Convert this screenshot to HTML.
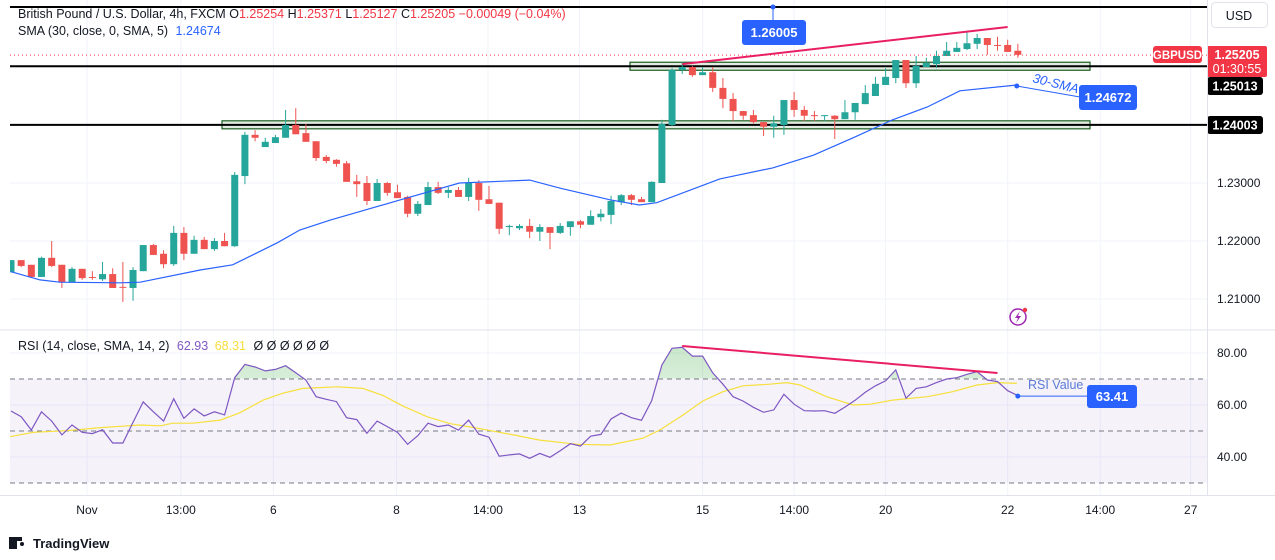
<!DOCTYPE html>
<html><head><meta charset="utf-8">
<style>
html,body{margin:0;padding:0;background:#fff;}
svg{display:block;font-family:"Liberation Sans",sans-serif;}
</style></head>
<body>
<svg id="chart" width="1275" height="560" viewBox="0 0 1275 560" xmlns="http://www.w3.org/2000/svg">
<defs>
<linearGradient id="gfill" x1="0" y1="0" x2="0" y2="1"><stop offset="0" stop-color="#4caf50" stop-opacity="0.3"/><stop offset="1" stop-color="#4caf50" stop-opacity="0.03"/></linearGradient>
<clipPath id="above70"><rect x="10" y="330" width="1197" height="48.5"/></clipPath>
<clipPath id="mainclip"><rect x="10" y="0" width="1197" height="329"/></clipPath>
</defs>
<rect x="0" y="0" width="1275" height="560" fill="#fff"/>
<g id="grid"></g>
<g id="zones"></g>
<g id="main" clip-path="url(#mainclip)"></g>
<g id="rsi"></g>
<g id="axes"></g>
<g id="annot"></g>

<line x1="0" y1="330" x2="1275" y2="330" stroke="#e0e3eb" stroke-width="1"/>
<line x1="1207.5" y1="0" x2="1207.5" y2="495" stroke="#e0e3eb"/>
<line x1="0" y1="495.5" x2="1275" y2="495.5" stroke="#e0e3eb"/>

<g font-size="12.5">
<text x="18" y="18" fill="#131722">British Pound / U.S. Dollar, 4h, FXCM <tspan fill="#131722">O</tspan><tspan fill="#f23645">1.25254</tspan> <tspan fill="#131722">H</tspan><tspan fill="#f23645">1.25371</tspan> <tspan fill="#131722">L</tspan><tspan fill="#f23645">1.25127</tspan> <tspan fill="#131722">C</tspan><tspan fill="#f23645">1.25205</tspan> <tspan fill="#f23645">−0.00049 (−0.04%)</tspan></text>
<text x="18" y="35" fill="#131722">SMA (30, close, 0, SMA, 5) <tspan fill="#2962ff" dx="4">1.24674</tspan></text>
<text x="18" y="350" fill="#131722">RSI (14, close, SMA, 14, 2) <tspan fill="#7e57c2" dx="4">62.93</tspan> <tspan fill="#f7dd3a" dx="3">68.31</tspan> <tspan fill="#131722" dx="4">Ø Ø Ø Ø Ø Ø</tspan></text>
</g>

<g>
<rect x="1211.5" y="2.5" width="56" height="25" rx="4" fill="#fff" stroke="#e0e3eb"/>
<text x="1239" y="20" font-size="12.5" text-anchor="middle" fill="#131722">USD</text>
</g>

<g>
<rect x="9" y="537" width="8" height="12" fill="#131722"/>
<rect x="14" y="537" width="8" height="4" fill="#131722"/>
<circle cx="22" cy="544" r="2" fill="#131722"/>
<text x="33" y="548" font-size="13" font-weight="bold" fill="#131722">TradingView</text>
</g>

<g>
<circle cx="1018" cy="317" r="8" fill="#fff" stroke="#9c27b0" stroke-width="1.5"/>
<path d="M1020 311 L1015 318 L1018 318 L1016 323 L1021 316 L1018 316 Z" fill="#9c27b0"/>
<circle cx="1025" cy="310" r="2.2" fill="#f23645"/>
</g>
</svg>
<script>
const opens=[1.2146,1.2167,1.2159,1.2138,1.2171,1.2159,1.2129,1.2152,1.2138,1.2134,
1.2143,1.2121,1.2119,1.2148,1.2193,1.2178,1.2160,1.2214,1.2178,1.2202,
1.2186,1.2200,1.2191,1.2312,1.2383,1.2362,1.2369,1.2378,1.2400,1.2386,
1.2372,1.2345,1.2340,1.2334,1.2303,1.2300,1.2269,1.2300,1.2284,1.2276,
1.2247,1.2262,1.2293,1.2283,1.2288,1.2276,1.2300,1.2272,1.2266,1.2224,
1.2222,1.2226,1.2216,1.2224,1.2214,1.2224,1.2234,1.2228,1.2241,1.2245,
1.2267,1.2279,1.2272,1.2267,1.2300,1.2400,1.2495,1.2500,1.2486,1.2491,
1.2464,1.2445,1.2424,1.2417,1.2405,1.2397,1.2400,1.2443,1.2426,1.2417,
1.2416,1.2416,1.2410,1.2422,1.2436,1.2450,1.2469,1.2481,1.2512,1.2472,
1.2500,1.2505,1.2519,1.2526,1.2531,1.2540,1.2550,1.2538,1.2538,1.2528];
const highs=[1.2167,1.2167,1.2159,1.2173,1.2200,1.2159,1.2155,1.2152,1.2148,1.2164,
1.2153,1.2164,1.2155,1.2193,1.2195,1.2184,1.2226,1.2224,1.2209,1.2207,
1.2205,1.2214,1.2319,1.2388,1.2391,1.2378,1.2383,1.2426,1.2429,1.2402,
1.2372,1.2348,1.2341,1.2338,1.2314,1.2312,1.2307,1.2302,1.2297,1.2278,
1.2269,1.2302,1.2302,1.2293,1.2293,1.2309,1.2305,1.2295,1.2266,1.2228,
1.2229,1.2238,1.2229,1.2224,1.2231,1.2234,1.2236,1.2253,1.2255,1.2278,
1.2281,1.2281,1.2276,1.2303,1.2409,1.2498,1.2509,1.2502,1.2500,1.2500,
1.2481,1.2455,1.2424,1.2426,1.2405,1.2416,1.2443,1.2457,1.2433,1.2424,
1.2417,1.2417,1.2443,1.2438,1.2469,1.2483,1.2498,1.2512,1.2512,1.2519,
1.2516,1.2528,1.2543,1.2543,1.2560,1.2557,1.2550,1.2552,1.2547,1.2540];
const lows=[1.2146,1.2155,1.2138,1.2138,1.2155,1.2119,1.2129,1.2133,1.2133,1.2131,
1.2119,1.2095,1.2097,1.2148,1.2176,1.2153,1.2157,1.2167,1.2178,1.2186,
1.2183,1.2191,1.2190,1.2298,1.2372,1.2362,1.2369,1.2378,1.2384,1.2371,
1.2338,1.2334,1.2328,1.2302,1.2276,1.2262,1.2269,1.2278,1.2274,1.2241,
1.2243,1.2262,1.2281,1.2274,1.2276,1.2269,1.2252,1.2264,1.2212,1.2210,
1.2219,1.2205,1.2200,1.2186,1.2212,1.2209,1.2222,1.2228,1.2234,1.2229,
1.2262,1.2262,1.2267,1.2267,1.2300,1.2398,1.2488,1.2483,1.2486,1.2457,
1.2429,1.2407,1.2409,1.2403,1.2381,1.2378,1.2383,1.2414,1.2407,1.2407,
1.2407,1.2376,1.2410,1.2409,1.2436,1.2450,1.2469,1.2472,1.2464,1.2464,
1.2500,1.2498,1.2519,1.2526,1.2529,1.2531,1.2521,1.2528,1.2526,1.2516];
const closes=[1.2167,1.2157,1.2138,1.2171,1.2157,1.2129,1.2152,1.2136,1.2137,1.2143,
1.2119,1.2120,1.2150,1.2193,1.2176,1.2160,1.2214,1.2178,1.2202,1.2186,
1.2200,1.2191,1.2314,1.2383,1.2378,1.2371,1.2379,1.2400,1.2384,1.2371,
1.2343,1.2338,1.2333,1.2302,1.2298,1.2269,1.2300,1.2283,1.2274,1.2247,
1.2264,1.2293,1.2283,1.2288,1.2276,1.2300,1.2271,1.2264,1.2221,1.2226,
1.2226,1.2216,1.2224,1.2214,1.2226,1.2234,1.2228,1.2243,1.2247,1.2269,
1.2279,1.2271,1.2267,1.2302,1.2402,1.2495,1.2500,1.2486,1.2491,1.2464,
1.2445,1.2424,1.2416,1.2405,1.2397,1.2403,1.2443,1.2426,1.2416,1.2416,
1.2417,1.2410,1.2422,1.2438,1.2455,1.2471,1.2483,1.2512,1.2472,1.2502,
1.2507,1.2519,1.2528,1.2533,1.2541,1.2550,1.2538,1.2537,1.2526,1.2521];
const smaIdx=[1,3.85,5.8,11.7,13.7,19.6,22.8,27.2,29.4,32.4,39.3,45.1,52,55,59.9,62.8,64.5,70.7,75.9,79.9,83.8,87.7,91.1,94.3,99.9];
const smaVal=[1.2147,1.2133,1.2129,1.2128,1.2129,1.2150,1.2159,1.2197,1.2219,1.2236,1.2271,1.2300,1.2305,1.2291,1.2271,1.2262,1.2266,1.2307,1.2326,1.2348,1.2378,1.2409,1.2431,1.2459,1.2469];
const rsiVal=[57.7,55.5,50.4,57.4,53.8,48.5,52.3,49.5,49,50.5,
45.4,45.4,53.3,61.2,57.4,53.8,62.4,54.9,58.5,55.8,
57.4,56.2,70.5,75.6,74.6,73.1,73.7,75.1,72.4,69.6,
63.2,62.2,61.3,55.1,54.4,49.1,53.8,51.7,49.5,44.9,
48.2,53,51.7,52.3,50.3,54.2,48.8,47.6,40.3,40.8,
41.2,39.5,41.4,39.9,42.4,45.1,44.2,48,48.7,54.6,
56.9,55.1,54.1,61.7,75.4,81.8,82.2,78.8,78.8,72.4,
68,63.2,61.5,59.1,57.2,58.1,64.1,60.3,57.8,57.7,
57.8,56.8,59.2,61.8,64.9,67.4,69.3,73.5,62.6,66.4,
67,68.6,70,70.5,71.8,72.8,69.6,69,65.5,63.6];
const rsiMaIdx=[0.9,3.2,6.5,9.8,13.7,15.7,16.9,18.9,21.6,23.5,25.8,27.7,29.7,33.1,35.6,37.6,39.5,41.9,44.2,46.4,48.8,50.9,53,56.7,59.9,63.1,64.8,67.1,69,71,73,75.6,77.3,78.6,81.2,83.8,85.5,87.7,91.1,93.6,96,98,99.9];
const rsiMaVal=[47.8,49.5,50.1,51.3,52.3,52,53,53,54.2,57,61.9,64.5,66.4,67,66.4,63.6,59.7,55.5,52.8,51.4,49.7,48.1,46.5,44.9,44.6,47.2,50.4,56.2,61.5,65.1,67.4,68,68.6,67.7,63.2,60,60.3,61.9,63.2,65.1,67.7,68.6,68.3];
const priceTicks=[1.21,1.22,1.23,1.24,1.25];
const priceTickLabels=["1.21000","1.22000","1.23000","",""];
const rsiTicks=[80,60,40];
const rsiTickLabels=["80.00","60.00","40.00"];
const timeTickIdx=[8.47,17.7,26.8,38.9,47.9,56.9,69,78,87,99,108.1,117];
const timeTickLabels=["Nov","13:00","6","8","14:00","13","15","14:00","20","22","14:00","27"];
const levelPrices=[1.26005,1.25013,1.24003];
const lastPrice=1.25205;
const smaLast=1.24672;
const rsiLast=63.41;

const NS="http://www.w3.org/2000/svg";
function xS(i){return 11+(i-1)*10.17;}
function yP(p){return 183-(p-1.23)*5800;}
function yR(v){return 431-(v-50)*2.6;}
function mk(tag,attrs,parent,text){const e=document.createElementNS(NS,tag);for(const k in attrs)e.setAttribute(k,attrs[k]);if(text!==undefined)e.textContent=text;parent.appendChild(e);return e;}
const G=document.getElementById('grid'),M=document.getElementById('main'),R=document.getElementById('rsi'),A=document.getElementById('axes'),Z=document.getElementById('zones'),N=document.getElementById('annot');

timeTickIdx.forEach((t,k)=>{const l=mk('line',{x1:xS(t),x2:xS(t),y1:0,y2:495,stroke:'#f0f3fa'},G);


const tx=mk('text',{x:xS(t),y:514,'font-size':12,'text-anchor':'middle',fill:'#131722'},A,timeTickLabels[k]);

});
priceTicks.forEach((p,k)=>{const l=mk('line',{x1:10,x2:1207,y1:yP(p),y2:yP(p),stroke:'#f0f3fa'},G);


if(priceTickLabels[k]){const tx=mk('text',{x:1217,y:yP(p)+4,'font-size':12,fill:'#131722'},A,priceTickLabels[k]);

}});
rsiTicks.forEach((v,k)=>{const l=mk('line',{x1:10,x2:1207,y1:yR(v),y2:yR(v),stroke:'#f0f3fa'},G);


const tx=mk('text',{x:1217,y:yR(v)+4,'font-size':12,fill:'#131722'},A,rsiTickLabels[k]);

});

function zone(x1,x2,p,name){const r=mk('rect',{x:x1,y:yP(p)-4,width:x2-x1,height:8,fill:'#dbe7db','fill-opacity':0.8,stroke:'#1b5e20','stroke-width':1.2},Z);

}
zone(630,1090,levelPrices[1],'resistance-zone');
zone(222,1090,levelPrices[2],'support-zone');
levelPrices.forEach((p,k)=>{const y=k===0?7:yP(p);const l=mk('line',{x1:10,x2:1207,y1:y,y2:y,stroke:'#000','stroke-width':2},Z);

});

for(let i=0;i<opens.length;i++){const x=xS(i+1),o=opens[i],c=closes[i],up=c>=o,col=up?'#26a69a':'#ef5350';
const g=mk('g',{},M);


mk('line',{x1:x,x2:x,y1:yP(highs[i]),y2:yP(lows[i]),stroke:col,'stroke-width':1},g);
const t=yP(Math.max(o,c)),b=yP(Math.min(o,c));
mk('rect',{x:x-3.5,y:t,width:7,height:Math.max(1,b-t),fill:col},g);}
let d='';smaIdx.forEach((t,k)=>{d+=(k?'L':'M')+xS(t).toFixed(1)+' '+yP(smaVal[k]).toFixed(1);});
const sma=mk('path',{d:d,fill:'none',stroke:'#2962ff','stroke-width':1.2},M);


const lp=mk('line',{x1:10,x2:1207,y1:yP(lastPrice),y2:yP(lastPrice),stroke:'#f23645','stroke-dasharray':'1 3'},M);


const tl=mk('line',{x1:xS(67),y1:yP(1.2505),x2:xS(99),y2:yP(1.2569),stroke:'#e91e63','stroke-width':2},M);



const band=mk('rect',{x:10,y:yR(70),width:1197,height:yR(30)-yR(70),fill:'#7e57c2','fill-opacity':0.08},R);


[70,50,30].forEach(v=>{const l=mk('line',{x1:10,x2:1207,y1:yR(v),y2:yR(v),stroke:'#787b86','stroke-dasharray':'5 4','stroke-width':1},R);

});
let rd='';rsiVal.forEach((v,k)=>{rd+=(k?'L':'M')+xS(k+1).toFixed(1)+' '+yR(v).toFixed(1);});
const fillp=mk('path',{d:rd+'L'+xS(rsiVal.length)+' '+yR(70)+'L'+xS(1)+' '+yR(70)+'Z',fill:'url(#gfill)','clip-path':'url(#above70)'},R);


let md='';rsiMaIdx.forEach((t,k)=>{md+=(k?'L':'M')+xS(t).toFixed(1)+' '+yR(rsiMaVal[k]).toFixed(1);});
const mal=mk('path',{d:md,fill:'none',stroke:'#f7e03a','stroke-width':1.2},R);


const rl=mk('path',{d:rd,fill:'none',stroke:'#7e57c2','stroke-width':1.2},R);


const rt=mk('line',{x1:xS(67),y1:yR(82.7),x2:xS(98),y2:yR(72.3),stroke:'#e91e63','stroke-width':2},R);



function label(x,y,w,h,bg,txt,name,fs,col){const g=mk('g',{},N);


mk('rect',{x:x,y:y,width:w,height:h,rx:3,fill:bg},g);
mk('text',{x:x+w/2,y:y+h/2+4.5,'font-size':fs||12.5,'text-anchor':'middle',fill:col||'#fff','font-weight':'bold'},g,txt);return g;}
const hm=mk('line',{x1:773,y1:7,x2:773,y2:20,stroke:'#2962ff'},N);


const hd=mk('circle',{cx:773,cy:7,r:2.5,fill:'#2962ff'},N);


label(742,20,64,25,'#2962ff',levelPrices[0].toFixed(5),'high-price-callout',13);
const sl=mk('line',{x1:xS(99.9),y1:yP(smaLast),x2:1080,y2:97,stroke:'#2962ff'},N);


const sd=mk('circle',{cx:xS(99.9),cy:yP(smaLast),r:2.5,fill:'#2962ff'},N);


const st=mk('text',{x:1032,y:82,'font-size':13,fill:'#2962ff','font-style':'italic',transform:'rotate(14 1032 82)'},N,'30-SMA');


label(1079,85,58,25,'#2962ff',smaLast.toFixed(5),'sma-value-callout',13);
const rl2=mk('line',{x1:xS(100),y1:yR(rsiLast),x2:1088,y2:yR(rsiLast),stroke:'#2962ff'},N);


const rdt=mk('circle',{cx:xS(100),cy:yR(rsiLast),r:2.5,fill:'#2962ff'},N);


const rtx=mk('text',{x:1028,y:389,'font-size':12.5,fill:'#5b7bd5'},N,'RSI Value');


label(1087,385,50,23,'#2962ff',rsiLast.toFixed(2),'rsi-value-callout',13);
label(1153,46,49,17,'#f23645','GBPUSD','symbol-tag',11.5);
const pt=mk('g',{},N);


mk('rect',{x:1207,y:46,width:60,height:31,rx:2,fill:'#f23645'},pt);
mk('text',{x:1237,y:59,'font-size':12.5,'text-anchor':'middle',fill:'#fff','font-weight':'bold'},pt,lastPrice.toFixed(5));
mk('text',{x:1237,y:73,'font-size':12.5,'text-anchor':'middle',fill:'#fff'},pt,'01:30:55');
label(1207,77,56,18,'#000',levelPrices[1].toFixed(5),'level-tag-1',12.5);
label(1207,116,56,18,'#000',levelPrices[2].toFixed(5),'level-tag-2',12.5);
</script>
</body></html>
